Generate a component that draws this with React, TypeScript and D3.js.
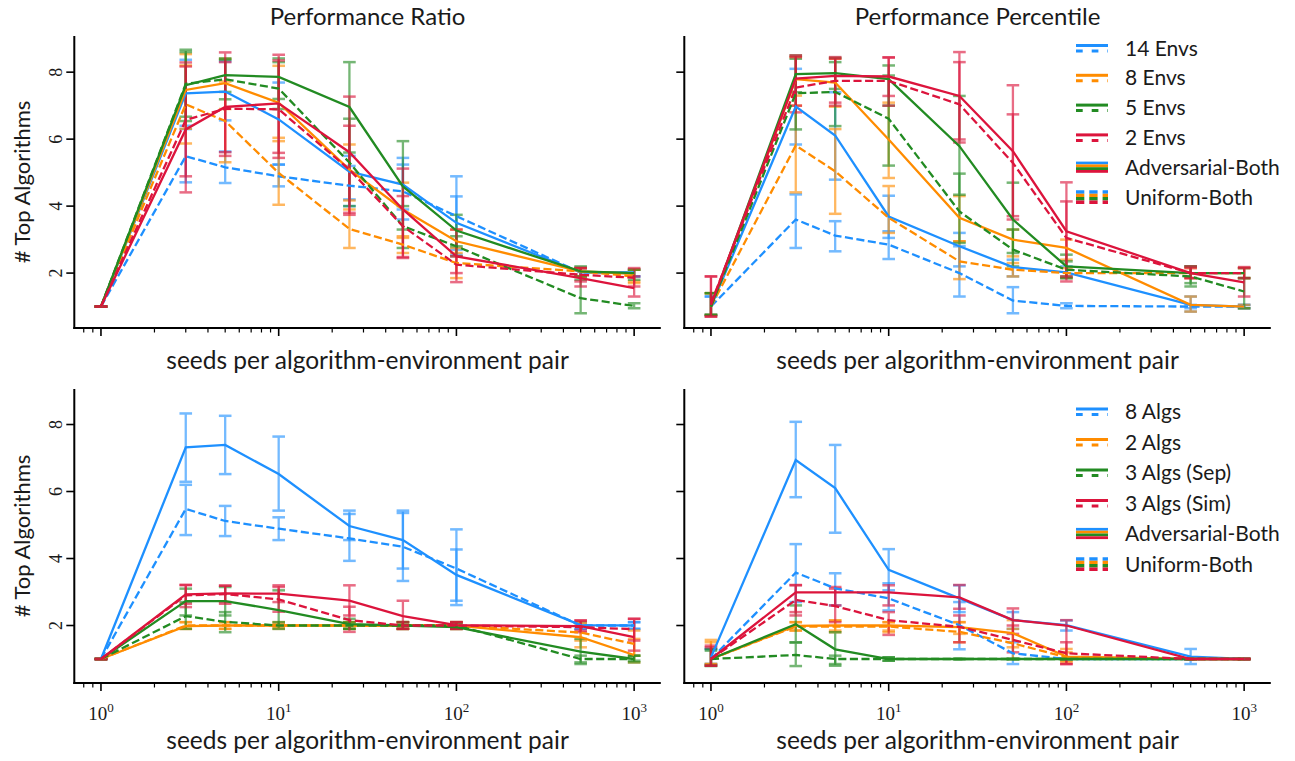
import React from "react";
import * as d3 from "d3";

// seeds per algorithm-environment pair
const seeds = [1, 3, 5, 10, 25, 50, 100, 500, 1000];
const colors = ["#1e90ff", "#ff8c00", "#228b22", "#dc143c"];
const envLabels = ["14 Envs", "8 Envs", "5 Envs", "2 Envs"];
const algLabels = ["8 Algs", "2 Algs", "3 Algs (Sep)", "3 Algs (Sim)"];
const yTickValues = [2, 4, 6, 8];

// Performance Ratio, environments (rows: 14, 8, 5, 2 envs)
const ratioEnvAdv = [
  [1, 7.37, 7.42, 6.59, 5.03, 4.64, 3.5, 2.02, 2.02],
  [1, 7.47, 7.67, 7.09, 5.09, 3.9, 2.95, 2.05, 1.98],
  [1, 7.61, 7.91, 7.86, 6.96, 4.59, 3.27, 2.05, 2.0],
  [1, 6.29, 6.96, 7.07, 5.61, 3.9, 2.5, 1.85, 1.55],
];
const ratioEnvAdvLo = [
  [1, 6.4, 6.56, 5.24, 4.2, 3.9, 2.7, 1.9, 1.9],
  [1, 6.31, 6.9, 6.04, 4.17, 3.05, 2.6, 1.9, 1.75],
  [1, 6.54, 7.41, 7.2, 5.6, 3.3, 2.8, 1.9, 1.8],
  [1, 4.41, 5.61, 5.59, 3.74, 2.48, 1.73, 1.6, 1.3],
];
const ratioEnvAdvHi = [
  [1, 8.37, 8.32, 7.69, 5.5, 5.44, 4.29, 2.15, 2.1],
  [1, 8.54, 8.4, 8.19, 5.84, 4.7, 3.3, 2.15, 2.1],
  [1, 8.67, 8.41, 8.41, 8.3, 5.94, 3.74, 2.2, 2.1],
  [1, 8.17, 8.59, 8.52, 7.27, 5.12, 3.3, 2.15, 1.9],
];
const ratioEnvUni = [
  [1, 5.49, 5.16, 4.89, 4.61, 4.44, 3.7, 2.02, 2.0],
  [1, 7.04, 6.54, 4.99, 3.32, 2.85, 2.3, 2.05, 1.9],
  [1, 7.65, 7.79, 7.51, 5.3, 3.4, 2.8, 1.25, 1.02],
  [1, 6.57, 6.91, 6.89, 5.09, 3.4, 2.25, 1.95, 1.86],
];
const ratioEnvUniLo = [
  [1, 4.71, 4.69, 4.59, 4.0, 3.6, 2.55, 1.9, 1.9],
  [1, 5.87, 5.31, 4.04, 2.75, 2.6, 1.85, 1.9, 1.7],
  [1, 6.67, 7.19, 6.9, 4.0, 2.75, 2.5, 0.8, 0.95],
  [1, 4.89, 5.5, 5.44, 3.8, 2.45, 2.0, 1.75, 1.6],
];
const ratioEnvUniHi = [
  [1, 6.3, 5.63, 5.24, 5.2, 5.24, 4.89, 2.15, 2.1],
  [1, 8.2, 7.72, 5.94, 3.9, 3.1, 2.75, 2.15, 2.1],
  [1, 8.6, 8.37, 8.3, 6.61, 4.0, 3.1, 1.8, 1.1],
  [1, 8.29, 8.3, 8.35, 6.4, 4.3, 2.5, 2.15, 2.15],
];

// Performance Percentile, environments
const pctEnvAdv = [
  [1.0, 6.97, 6.11, 3.69, 2.8, 2.18, 2.02, 1.05, 1.0],
  [1.0, 7.79, 7.69, 5.99, 3.65, 3.0, 2.75, 1.05, 1.0],
  [1.0, 7.94, 7.97, 7.79, 5.79, 3.6, 2.2, 2.0, 2.0],
  [1.05, 7.81, 7.89, 7.87, 7.29, 5.64, 3.25, 2.0, 1.72],
];
const pctEnvAdvLo = [
  [0.75, 5.84, 4.79, 3.05, 2.2, 1.9, 1.85, 0.85, 0.95],
  [0.75, 7.0, 6.97, 4.84, 2.95, 2.5, 2.4, 0.85, 0.95],
  [0.75, 7.4, 7.5, 7.0, 4.34, 2.6, 1.85, 1.7, 1.85],
  [0.7, 7.0, 7.09, 7.29, 5.99, 3.7, 1.75, 1.85, 1.3],
];
const pctEnvAdvHi = [
  [1.3, 8.1, 7.4, 4.31, 3.2, 2.4, 2.2, 1.3, 1.05],
  [1.4, 8.45, 8.4, 7.09, 4.3, 3.3, 3.0, 1.3, 1.05],
  [1.4, 8.5, 8.43, 8.2, 7.29, 4.7, 2.55, 2.2, 2.15],
  [1.9, 8.5, 8.45, 8.44, 8.6, 7.61, 4.71, 2.2, 2.18],
];
const pctEnvUni = [
  [1.0, 3.6, 3.12, 2.85, 2.0, 1.18, 1.02, 1.0, 1.0],
  [1.0, 5.81, 5.04, 3.65, 2.35, 2.1, 2.0, 2.0, 2.0],
  [1.0, 7.37, 7.41, 6.61, 3.84, 2.7, 2.1, 1.9, 1.45],
  [1.1, 7.54, 7.74, 7.74, 7.04, 5.29, 3.05, 2.0, 2.0],
];
const pctEnvUniLo = [
  [0.75, 2.75, 2.65, 2.42, 1.3, 0.8, 0.95, 0.95, 0.95],
  [0.75, 4.41, 3.77, 3.2, 1.82, 1.9, 1.85, 1.85, 1.85],
  [0.75, 6.29, 6.39, 5.21, 2.9, 2.2, 1.9, 1.6, 0.95],
  [0.7, 6.8, 7.0, 7.0, 5.9, 3.6, 1.9, 1.85, 1.85],
];
const pctEnvUniHi = [
  [1.3, 4.35, 3.55, 3.25, 2.8, 1.58, 1.1, 1.05, 1.05],
  [1.4, 7.3, 6.3, 4.6, 2.95, 2.3, 2.15, 2.15, 2.15],
  [1.4, 8.4, 8.3, 7.9, 4.97, 3.3, 2.35, 2.2, 1.85],
  [1.9, 8.45, 8.4, 8.44, 8.3, 6.74, 4.14, 2.15, 2.15],
];

// Performance Ratio, algorithms (rows: 8, 2, 3 sep, 3 sim)
const ratioAlgAdv = [
  [1, 7.32, 7.39, 6.52, 4.97, 4.55, 3.51, 2.01, 2.0],
  [1, 1.98, 2.0, 2.0, 2.0, 2.0, 2.0, 1.65, 1.12],
  [1, 2.73, 2.73, 2.46, 2.04, 2.0, 1.95, 1.22, 1.0],
  [1, 2.93, 2.96, 2.95, 2.74, 2.28, 2.01, 1.98, 1.65],
];
const ratioAlgAdvLo = [
  [1, 6.29, 6.52, 5.43, 4.55, 3.7, 2.74, 1.9, 1.9],
  [1, 1.9, 1.9, 1.95, 1.9, 1.9, 1.9, 1.35, 0.9],
  [1, 2.3, 2.3, 2.0, 1.9, 1.9, 1.9, 0.85, 0.95],
  [1, 2.65, 2.7, 2.7, 2.3, 1.9, 1.9, 1.85, 1.25],
];
const ratioAlgAdvHi = [
  [1, 8.33, 8.26, 7.64, 5.43, 5.43, 4.27, 2.1, 2.1],
  [1, 2.1, 2.1, 2.05, 2.1, 2.1, 2.1, 2.1, 1.6],
  [1, 3.1, 3.15, 3.05, 2.2, 2.1, 2.05, 1.6, 1.1],
  [1, 3.21, 3.19, 3.2, 3.2, 2.74, 2.1, 2.15, 2.2],
];
const ratioAlgUni = [
  [1, 5.48, 5.12, 4.89, 4.6, 4.35, 3.7, 2.0, 2.0],
  [1, 2.0, 2.0, 2.0, 2.0, 2.0, 2.0, 1.79, 1.45],
  [1, 2.28, 2.11, 2.0, 2.0, 2.0, 2.0, 1.0, 1.0],
  [1, 2.9, 2.94, 2.78, 2.16, 2.0, 2.0, 1.95, 1.89],
];
const ratioAlgUniLo = [
  [1, 4.7, 4.67, 4.55, 3.93, 3.33, 2.61, 1.9, 1.9],
  [1, 1.9, 1.9, 1.9, 1.9, 1.9, 1.9, 1.55, 1.1],
  [1, 1.9, 1.8, 1.9, 1.9, 1.9, 1.9, 0.9, 0.9],
  [1, 2.55, 2.65, 2.41, 1.81, 1.9, 1.9, 1.8, 1.55],
];
const ratioAlgUniHi = [
  [1, 6.2, 5.57, 5.23, 5.33, 5.36, 4.87, 2.1, 2.1],
  [1, 2.1, 2.1, 2.1, 2.1, 2.1, 2.1, 2.05, 1.85],
  [1, 2.7, 2.4, 2.1, 2.1, 2.1, 2.1, 1.1, 1.1],
  [1, 3.21, 3.19, 3.15, 2.56, 2.1, 2.1, 2.15, 2.2],
];

// Performance Percentile, algorithms
const pctAlgAdv = [
  [1.05, 6.94, 6.1, 3.66, 2.81, 2.16, 2.01, 1.07, 1.0],
  [1.0, 1.99, 2.0, 2.0, 1.95, 1.77, 1.07, 1.0, 1.0],
  [1.0, 2.04, 1.29, 1.0, 1.0, 1.0, 1.0, 1.0, 1.0],
  [1.0, 2.99, 2.99, 2.99, 2.84, 2.16, 2.0, 1.0, 1.0],
];
const pctAlgAdvLo = [
  [0.85, 5.83, 4.77, 3.05, 2.4, 1.9, 1.85, 0.85, 1.0],
  [0.85, 1.85, 1.85, 1.85, 1.75, 1.35, 0.9, 1.0, 1.0],
  [0.8, 1.5, 0.8, 0.95, 1.0, 1.0, 1.0, 1.0, 1.0],
  [0.8, 2.4, 2.6, 2.6, 2.5, 1.75, 0.85, 1.0, 1.0],
];
const pctAlgAdvHi = [
  [1.3, 8.08, 7.39, 4.28, 3.2, 2.4, 2.15, 1.3, 1.0],
  [1.57, 2.1, 2.15, 2.1, 2.1, 2.16, 1.3, 1.0, 1.0],
  [1.25, 2.6, 1.8, 1.05, 1.0, 1.0, 1.0, 1.0, 1.0],
  [1.35, 3.21, 3.15, 3.2, 3.21, 2.51, 2.16, 1.0, 1.0],
];
const pctAlgUni = [
  [1.0, 3.58, 3.11, 2.81, 2.01, 1.17, 1.0, 1.0, 1.0],
  [1.0, 1.97, 1.97, 1.97, 1.81, 1.47, 1.05, 1.0, 1.0],
  [1.0, 1.12, 1.0, 1.0, 1.0, 1.0, 1.0, 1.0, 1.0],
  [1.0, 2.76, 2.58, 2.16, 1.96, 1.57, 1.17, 1.0, 1.0],
];
const pctAlgUniLo = [
  [0.85, 2.7, 2.6, 2.45, 1.29, 0.85, 1.0, 1.0, 1.0],
  [0.85, 1.85, 1.8, 1.8, 1.5, 1.0, 0.95, 1.0, 1.0],
  [0.79, 0.79, 0.85, 0.95, 1.0, 1.0, 1.0, 1.0, 1.0],
  [0.8, 2.3, 2.1, 1.72, 1.5, 1.2, 0.85, 1.0, 1.0],
];
const pctAlgUniHi = [
  [1.3, 4.43, 3.56, 3.26, 2.7, 1.5, 1.0, 1.0, 1.0],
  [1.5, 2.1, 2.15, 2.1, 2.1, 1.9, 1.2, 1.0, 1.0],
  [1.3, 1.49, 1.1, 1.05, 1.0, 1.0, 1.0, 1.0, 1.0],
  [1.4, 3.2, 3.1, 2.4, 2.3, 2.0, 1.5, 1.0, 1.0],
];

const SANS = "Lato, 'Open Sans', sans-serif";
const SERIF = "'Liberation Serif', 'DejaVu Serif', serif";
const DASH = "8.1,3.5";
const INK = "#1a1a1a";

function ErrorBars({ x, y, mean, lo, hi, color }: any) {
  return (
    <g stroke={color} opacity={0.62}>
      {mean.map((_: number, i: number) => {
        const cx = x(seeds[i]);
        const y0 = y(lo[i]);
        const y1 = y(hi[i]);
        return (
          <g key={i}>
            <line x1={cx} x2={cx} y1={y0} y2={y1} strokeWidth={2.3} />
            <line x1={cx - 6.3} x2={cx + 6.3} y1={y0} y2={y0} strokeWidth={2.5} />
            <line x1={cx - 6.3} x2={cx + 6.3} y1={y1} y2={y1} strokeWidth={2.5} />
          </g>
        );
      })}
    </g>
  );
}

function Panel(props: any) {
  const { left, right, top, bottom, yDomain, adv, advLo, advHi, uni, uniLo, uniHi } = props;
  const x = d3.scaleLog().domain([10 ** -0.15, 10 ** 3.15]).range([left, right]);
  const y = d3.scaleLinear().domain(yDomain).range([bottom, top]);
  const line = d3.line<number>().x((_, i) => x(seeds[i])).y((d) => y(d));
  const xt = x.ticks();
  const majors = xt.filter((t) => Math.abs(Math.log10(t) - Math.round(Math.log10(t))) < 1e-9);
  const minors = xt.filter((t) => !majors.includes(t));

  return (
    <g>
      {colors.map((c, s) => (
        <g key={"eb" + s}>
          <ErrorBars x={x} y={y} mean={adv[s]} lo={advLo[s]} hi={advHi[s]} color={c} />
          <ErrorBars x={x} y={y} mean={uni[s]} lo={uniLo[s]} hi={uniHi[s]} color={c} />
        </g>
      ))}
      {colors.map((c, s) => (
        <g key={"ln" + s} fill="none" stroke={c} strokeWidth={2.3}>
          <path d={line(adv[s]) || ""} />
          <path d={line(uni[s]) || ""} strokeDasharray={DASH} />
        </g>
      ))}
      {/* spines */}
      <line x1={left} x2={left} y1={top} y2={bottom + 1} stroke="#000" strokeWidth={2} />
      <line x1={left - 1} x2={right} y1={bottom} y2={bottom} stroke="#000" strokeWidth={2} />
      {/* x ticks */}
      {majors.map((t) => (
        <line key={"mj" + t} x1={x(t)} x2={x(t)} y1={bottom} y2={bottom + 8} stroke="#000" strokeWidth={1.6} />
      ))}
      {minors.map((t) => (
        <line key={"mn" + t} x1={x(t)} x2={x(t)} y1={bottom} y2={bottom + 4.5} stroke="#000" strokeWidth={1.2} />
      ))}
      {props.xLabels &&
        majors.map((t) => (
          <text key={"xl" + t} x={x(t)} y={bottom + 37} textAnchor="middle" fontFamily={SERIF} fontSize={19} fill={INK}>
            10
            <tspan fontSize={13} dy={-8}>
              {Math.round(Math.log10(t))}
            </tspan>
          </text>
        ))}
      {/* y ticks */}
      {yTickValues.map((t) => (
        <line key={"yt" + t} x1={left - 8} x2={left} y1={y(t)} y2={y(t)} stroke="#000" strokeWidth={1.6} />
      ))}
      {props.yLabels &&
        yTickValues.map((t) => (
          <text key={"yl" + t} transform={`translate(${left - 12},${y(t)}) rotate(-90)`} textAnchor="middle" fontFamily={SERIF} fontSize={18} fill={INK}>
            {t}
          </text>
        ))}
      {props.yLabels && (
        <text transform={`translate(30,${(top + bottom) / 2}) rotate(-90)`} textAnchor="middle" fontFamily={SANS} fontSize={22} fill={INK}>
          # Top Algorithms
        </text>
      )}
      <text x={(left + right) / 2} y={props.xLabelY} textAnchor="middle" fontFamily={SANS} fontSize={24.5} fill={INK}>
        seeds per algorithm-environment pair
      </text>
      {props.title && (
        <text x={(left + right) / 2} y={25} textAnchor="middle" fontFamily={SANS} fontSize={24} fill={INK}>
          {props.title}
        </text>
      )}
      {props.legend && <Legend labels={props.legend} y0={props.legendY} step={props.legendStep} />}
    </g>
  );
}

function Legend({ labels, y0, step }: { labels: string[]; y0: number; step: number }) {
  const x0 = 1076;
  const x1 = 1108;
  const tx = 1125;
  const fs = 21;
  return (
    <g>
      {labels.map((lab, i) => {
        const cy = y0 + i * step;
        return (
          <g key={lab}>
            <line x1={x0} x2={x1} y1={cy - 2.5} y2={cy - 2.5} stroke={colors[i]} strokeWidth={3} />
            <line x1={x0} x2={x1} y1={cy + 3} y2={cy + 3} stroke={colors[i]} strokeWidth={3} strokeDasharray="6.7,9" />
            <text x={tx} y={cy + 7.5} fontFamily={SANS} fontSize={fs} fill={INK}>
              {lab}
            </text>
          </g>
        );
      })}
      {colors.map((c, k) => (
        <line key={"adv" + k} x1={x0} x2={x1} y1={y0 + 4 * step - 4.2 + k * 2.8} y2={y0 + 4 * step - 4.2 + k * 2.8} stroke={c} strokeWidth={2.8} />
      ))}
      <text x={tx} y={y0 + 4 * step + 7.5} fontFamily={SANS} fontSize={fs} fill={INK}>
        Adversarial-Both
      </text>
      {colors.map((c, k) => (
        <line key={"uni" + k} x1={x0} x2={x1} y1={y0 + 5 * step - 5 + k * 3.4} y2={y0 + 5 * step - 5 + k * 3.4} stroke={c} strokeWidth={3.4} strokeDasharray="8.3,5" />
      ))}
      <text x={tx} y={y0 + 5 * step + 7.5} fontFamily={SANS} fontSize={fs} fill={INK}>
        Uniform-Both
      </text>
    </g>
  );
}

export default function App() {
  const topY = [0.36, 9.08];
  const botY = [0.284, 9.06];
  return (
    <svg width={1295} height={761} style={{ position: "absolute", left: 0, top: 0, background: "#fff" }}>
      <Panel left={74.3} right={660.8} top={36} bottom={328} yDomain={topY} title="Performance Ratio" yLabels xLabelY={369}
        adv={ratioEnvAdv} advLo={ratioEnvAdvLo} advHi={ratioEnvAdvHi} uni={ratioEnvUni} uniLo={ratioEnvUniLo} uniHi={ratioEnvUniHi} />
      <Panel left={684.3} right={1270.8} top={36} bottom={328} yDomain={topY} title="Performance Percentile" xLabelY={369}
        legend={envLabels} legendY={48} legendStep={29.8}
        adv={pctEnvAdv} advLo={pctEnvAdvLo} advHi={pctEnvAdvHi} uni={pctEnvUni} uniLo={pctEnvUniLo} uniHi={pctEnvUniHi} />
      <Panel left={74.3} right={660.8} top={389} bottom={683} yDomain={botY} yLabels xLabels xLabelY={749}
        adv={ratioAlgAdv} advLo={ratioAlgAdvLo} advHi={ratioAlgAdvHi} uni={ratioAlgUni} uniLo={ratioAlgUniLo} uniHi={ratioAlgUniHi} />
      <Panel left={684.3} right={1270.8} top={389} bottom={683} yDomain={botY} xLabels xLabelY={749}
        legend={algLabels} legendY={411.5} legendStep={30.5}
        adv={pctAlgAdv} advLo={pctAlgAdvLo} advHi={pctAlgAdvHi} uni={pctAlgUni} uniLo={pctAlgUniLo} uniHi={pctAlgUniHi} />
    </svg>
  );
}
